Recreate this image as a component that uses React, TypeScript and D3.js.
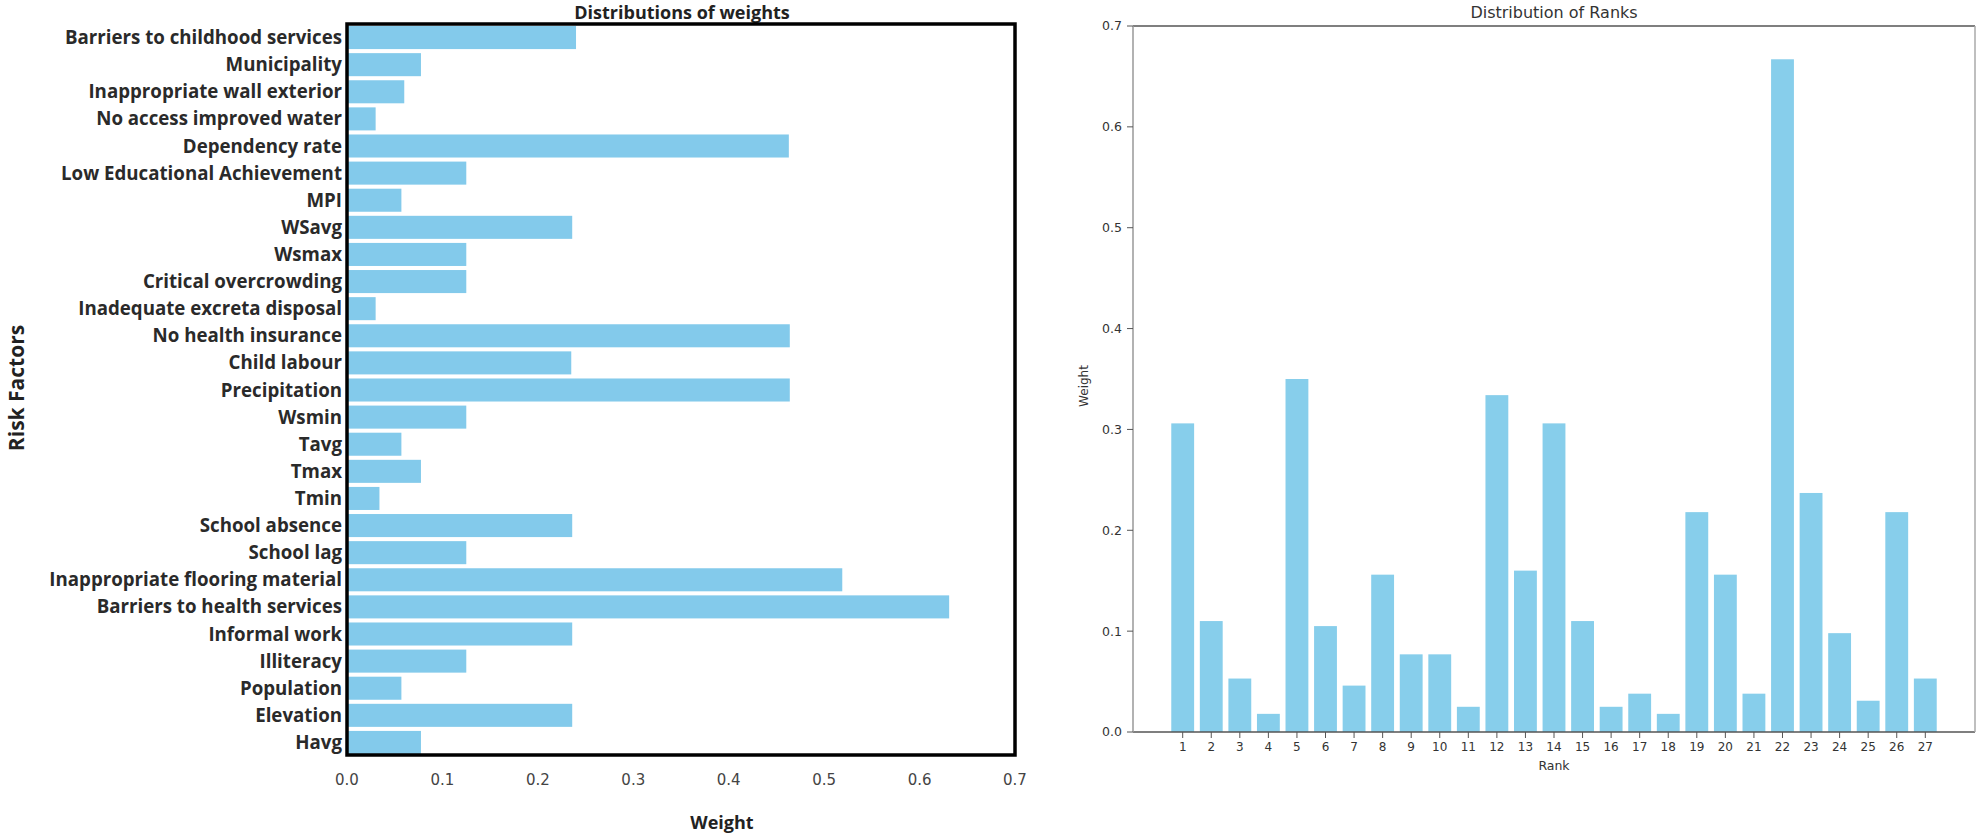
import * as d3 from "d3"

// Left panel: weights per risk factor (top to bottom)
const riskFactors = [
  "Barriers to childhood services",
  "Municipality",
  "Inappropriate wall exterior",
  "No access improved water",
  "Dependency rate",
  "Low Educational Achievement",
  "MPI",
  "WSavg",
  "Wsmax",
  "Critical overcrowding",
  "Inadequate excreta disposal",
  "No health insurance",
  "Child labour",
  "Precipitation",
  "Wsmin",
  "Tavg",
  "Tmax",
  "Tmin",
  "School absence",
  "School lag",
  "Inappropriate flooring material",
  "Barriers to health services",
  "Informal work",
  "Illiteracy",
  "Population",
  "Elevation",
  "Havg",
]
const riskWeights = [
  0.24, 0.0775, 0.06, 0.03, 0.463, 0.125, 0.057, 0.236, 0.125, 0.125, 0.03, 0.464, 0.235, 0.464,
  0.125, 0.057, 0.0775, 0.034, 0.236, 0.125, 0.519, 0.631, 0.236, 0.125, 0.057, 0.236, 0.0775,
]
const weightTicks = [0, 0.1, 0.2, 0.3, 0.4, 0.5, 0.6, 0.7]

// Right panel: weight per rank
const ranks = [1, 2, 3, 4, 5, 6, 7, 8, 9, 10, 11, 12, 13, 14, 15, 16, 17, 18, 19, 20, 21, 22, 23, 24, 25, 26, 27]
const rankWeights = [
  0.306, 0.11, 0.053, 0.018, 0.35, 0.105, 0.046, 0.156, 0.077, 0.077, 0.025, 0.334, 0.16, 0.306,
  0.11, 0.025, 0.038, 0.018, 0.218, 0.156, 0.038, 0.667, 0.237, 0.098, 0.031, 0.218, 0.053,
]
const rankYTicks = [0, 0.1, 0.2, 0.3, 0.4, 0.5, 0.6, 0.7]

export default function App() {
  const W = 1982
  const H = 838

  // left chart scales
  const lx = d3.scaleLinear().domain([0, 0.7]).range([347, 1015])
  const ly = d3
    .scaleBand<string>()
    .domain(riskFactors)
    .range([24, 756])
    .paddingInner(0.15)
    .paddingOuter(0.075)

  // right chart scales
  const rx = d3.scaleLinear().domain([-0.74, 28.74]).range([1133, 1975])
  const ry = d3.scaleLinear().domain([0, 0.7]).range([732, 26])

  const bold = "'Open Sans', sans-serif"
  const mpl = "'DejaVu Sans', sans-serif"

  return (
    <svg
      width={W}
      height={H}
      style={{ position: "absolute", left: 0, top: 0, background: "#fff" }}
    >
      {/* ---------- left chart ---------- */}
      <text x={682} y={19} textAnchor="middle" fontFamily={bold} fontWeight={700} fontSize={18} fill="#222">
        Distributions of weights
      </text>

      {riskFactors.map((f, i) => (
        <rect
          key={f}
          x={lx(0)}
          y={ly(f)}
          width={lx(riskWeights[i]) - lx(0)}
          height={ly.bandwidth()}
          fill="#83caeb"
        />
      ))}

      {riskFactors.map((f) => (
        <text
          key={f}
          x={342}
          y={(ly(f) as number) + ly.bandwidth() / 2}
          dy="0.35em"
          textAnchor="end"
          fontFamily={bold}
          fontWeight={700}
          fontSize={18.7}
          fill="#2a2a2a"
        >
          {f}
        </text>
      ))}

      <rect x={347} y={24} width={668} height={731} fill="none" stroke="#000" strokeWidth={3.5} />

      {weightTicks.map((t) => (
        <text
          key={t}
          x={lx(t)}
          y={785}
          textAnchor="middle"
          fontFamily={mpl}
          fontSize={15}
          fill="#444"
        >
          {t.toFixed(1)}
        </text>
      ))}

      <text x={722} y={829} textAnchor="middle" fontFamily={bold} fontWeight={700} fontSize={18} fill="#222">
        Weight
      </text>

      <text
        transform="translate(24,388) rotate(-90)"
        textAnchor="middle"
        fontFamily={bold}
        fontWeight={700}
        fontSize={21}
        fill="#222"
      >
        Risk Factors
      </text>

      {/* ---------- right chart ---------- */}
      <text x={1554} y={18} textAnchor="middle" fontFamily={mpl} fontSize={16} fill="#333">
        Distribution of Ranks
      </text>

      {ranks.map((r, i) => (
        <rect
          key={r}
          x={rx(r - 0.4)}
          y={ry(rankWeights[i])}
          width={rx(r + 0.4) - rx(r - 0.4)}
          height={ry(0) - ry(rankWeights[i])}
          fill="#87ceeb"
        />
      ))}

      {/* spines */}
      <line x1={1133} x2={1975} y1={26} y2={26} stroke="#555" strokeWidth={1.5} />
      <line x1={1133} x2={1975} y1={732} y2={732} stroke="#555" strokeWidth={1.5} />
      <line x1={1133} x2={1133} y1={26} y2={732} stroke="#999" strokeWidth={1.5} />
      <line x1={1975} x2={1975} y1={26} y2={732} stroke="#aaa" strokeWidth={1.5} />

      {rankYTicks.map((t) => (
        <g key={t}>
          <line x1={1127} x2={1133} y1={ry(t)} y2={ry(t)} stroke="#555" strokeWidth={1} />
          <text
            x={1122}
            y={ry(t)}
            dy="0.35em"
            textAnchor="end"
            fontFamily={mpl}
            fontSize={12.5}
            fill="#333"
          >
            {t.toFixed(1)}
          </text>
        </g>
      ))}

      {ranks.map((r) => (
        <g key={r}>
          <line x1={rx(r)} x2={rx(r)} y1={732} y2={738} stroke="#555" strokeWidth={1} />
          <text x={rx(r)} y={751} textAnchor="middle" fontFamily={mpl} fontSize={12} fill="#333">
            {r}
          </text>
        </g>
      ))}

      <text x={1554} y={770} textAnchor="middle" fontFamily={mpl} fontSize={12.5} fill="#333">
        Rank
      </text>

      <text
        transform="translate(1088,386) rotate(-90)"
        textAnchor="middle"
        fontFamily={mpl}
        fontSize={12}
        fill="#333"
      >
        Weight
      </text>
    </svg>
  )
}
